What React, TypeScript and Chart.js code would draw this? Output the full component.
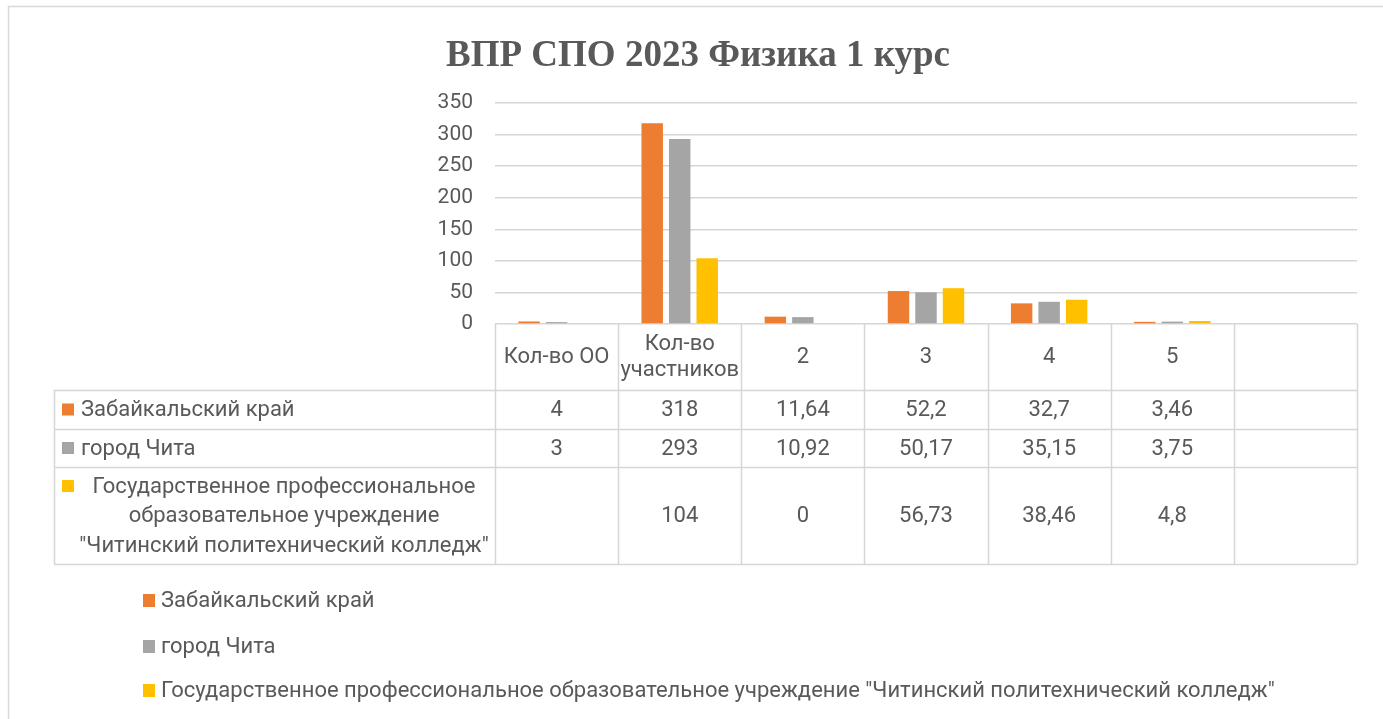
import React, { useEffect, useRef } from "react";
import { Chart, registerables } from "chart.js";

Chart.register(...registerables);

const titleText = "ВПР СПО 2023 Физика 1 курс";
const categories: string[][] = [["Кол-во ОО"], ["Кол-во", "участников"], ["2"], ["3"], ["4"], ["5"], [""]];
const seriesNames = ["Забайкальский край", "город Чита", 'Государственное профессиональное образовательное учреждение "Читинский политехнический колледж"'];
const collegeTableLabel = ["Государственное профессиональное", "образовательное учреждение", '"Читинский политехнический колледж"'];
const zabaikalsky: (number | null)[] = [4, 318, 11.64, 52.2, 32.7, 3.46, null];
const chita: (number | null)[] = [3, 293, 10.92, 50.17, 35.15, 3.75, null];
const college: (number | null)[] = [null, 104, 0, 56.73, 38.46, 4.8, null];
const colors = ["#ED7D31", "#A5A5A5", "#FFC000"];
const yTicks = { min: 0, max: 350, step: 50 };

const FONT = "Roboto";
const TEXT = "#595959";
const LINE = "#d6d6d6";

const fmt = (v: number | null) => (v === null ? "" : String(v).replace(".", ","));

const tablePlugin = {
  id: "tablePlugin",
  afterDraw(chart: any) {
    const ctx = chart.ctx as CanvasRenderingContext2D;
    const area = chart.chartArea;
    const xs = chart.scales.x;
    const n = categories.length;
    const cw = (area.right - area.left) / n;
    ctx.save();
    // outer border
    ctx.strokeStyle = "#d9d9d9";
    ctx.lineWidth = 1.5;
    ctx.beginPath();
    ctx.moveTo(8.5, 730);
    ctx.lineTo(8.5, 6.5);
    ctx.lineTo(1400, 6.5);
    ctx.stroke();

    // title
    ctx.fillStyle = TEXT;
    ctx.font = "bold 37px 'Liberation Serif'";
    ctx.textAlign = "center";
    ctx.textBaseline = "alphabetic";
    ctx.fillText(titleText, 698, 66);

    // table
    const tableLeft = 54;
    const headTop = area.bottom;
    const rowsY = [390, 429, 467, 564];
    ctx.strokeStyle = LINE;
    ctx.lineWidth = 1.5;
    ctx.beginPath();
    for (const y of rowsY) {
      ctx.moveTo(tableLeft, y + 0.5);
      ctx.lineTo(area.right, y + 0.5);
    }
    ctx.moveTo(tableLeft + 0.5, rowsY[0]);
    ctx.lineTo(tableLeft + 0.5, rowsY[3]);
    for (let i = 0; i <= n; i++) {
      const x = Math.round(area.left + cw * i) + 0.5;
      ctx.moveTo(x, headTop);
      ctx.lineTo(x, rowsY[3]);
    }
    ctx.stroke();

    ctx.font = `22px ${FONT}`;
    ctx.fillStyle = TEXT;
    ctx.textBaseline = "middle";
    ctx.textAlign = "center";
    // header
    categories.forEach((lines, i) => {
      const cx = xs.getPixelForValue(i);
      const cy = (headTop + rowsY[0]) / 2;
      const lh = 26;
      lines.forEach((t, k) => {
        ctx.fillText(t, cx, cy + (k - (lines.length - 1) / 2) * lh);
      });
    });
    // rows
    const data = [zabaikalsky, chita, college];
    const rowCenters = [(rowsY[0] + rowsY[1]) / 2, (rowsY[1] + rowsY[2]) / 2, (rowsY[2] + rowsY[3]) / 2];
    data.forEach((arr, r) => {
      arr.forEach((v, i) => {
        ctx.fillText(fmt(v), xs.getPixelForValue(i), rowCenters[r] + 1);
      });
    });
    // row labels
    ctx.textAlign = "left";
    for (let r = 0; r < 2; r++) {
      ctx.fillStyle = colors[r];
      ctx.fillRect(62, rowCenters[r] - 6, 12, 12);
      ctx.fillStyle = TEXT;
      ctx.fillText(seriesNames[r], 81, rowCenters[r] + 1);
    }
    ctx.fillStyle = colors[2];
    ctx.fillRect(62, 480, 12, 12);
    ctx.fillStyle = TEXT;
    ctx.textAlign = "center";
    collegeTableLabel.forEach((t, k) => {
      ctx.fillText(t, 284, 487 + k * 29.5);
    });

    // legend
    ctx.textAlign = "left";
    const legendY = [600, 646, 690];
    seriesNames.forEach((name, r) => {
      ctx.fillStyle = colors[r];
      ctx.fillRect(143, legendY[r] - 6, 12, 13);
      ctx.fillStyle = TEXT;
      ctx.fillText(name, 161, legendY[r] + 1);
    });
    ctx.restore();
  },
};

export default function App() {
  const ref = useRef<HTMLCanvasElement>(null);
  useEffect(() => {
    if (!ref.current) return;
    const chart = new Chart(ref.current, {
      type: "bar",
      data: {
        labels: categories,
        datasets: [
          { label: seriesNames[0], data: zabaikalsky, backgroundColor: colors[0] },
          { label: seriesNames[1], data: chita, backgroundColor: colors[1] },
          { label: seriesNames[2], data: college, backgroundColor: colors[2] },
        ],
      },
      options: {
        responsive: false,
        animation: false,
        events: [],
        layout: { padding: { top: 103, bottom: 395, left: 0, right: 26 } },
        datasets: { bar: { categoryPercentage: 0.67, barPercentage: 0.78 } },
        plugins: { legend: { display: false }, title: { display: false }, tooltip: { enabled: false } },
        scales: {
          x: { display: false },
          y: {
            min: yTicks.min,
            max: yTicks.max,
            afterFit: (s: any) => {
              s.width = 495;
            },
            ticks: { stepSize: yTicks.step, color: TEXT, font: { family: FONT, size: 21 }, padding: 22 },
            grid: { color: LINE, lineWidth: 1.5, drawTicks: false },
            border: { display: false },
          },
        },
      },
      plugins: [tablePlugin],
    });
    return () => chart.destroy();
  }, []);
  return (
    <div style={{ position: "fixed", left: 0, top: 0, width: 1383, height: 719, background: "#fff" }}>
      <canvas ref={ref} width={1383} height={719} style={{ width: 1383, height: 719, display: "block" }} />
    </div>
  );
}
